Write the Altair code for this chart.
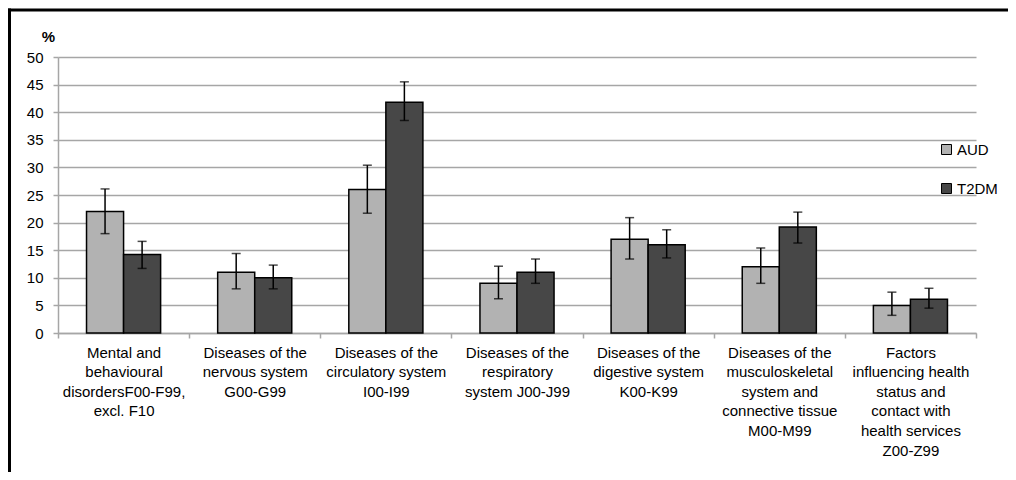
import altair as alt
import pandas as pd

categories = [
    "Mental and|behavioural|disordersF00-F99,|excl. F10",
    "Diseases of the|nervous system|G00-G99",
    "Diseases of the|circulatory system|I00-I99",
    "Diseases of the|respiratory|system J00-J99",
    "Diseases of the|digestive system|K00-K99",
    "Diseases of the|musculoskeletal|system and|connective tissue|M00-M99",
    "Factors|influencing health|status and|contact with|health services|Z00-Z99",
]
groups = ["AUD", "T2DM"]
aud = [22, 11, 26, 9, 17, 12, 5]
aud_lo = [18, 8, 21.7, 6.2, 13.4, 9, 3.2]
aud_hi = [26.1, 14.4, 30.4, 12.1, 20.9, 15.4, 7.4]
t2dm = [14.2, 10, 41.8, 11, 16, 19.2, 6.1]
t2dm_lo = [11.7, 8, 38.5, 9, 13.6, 16.3, 4.5]
t2dm_hi = [16.6, 12.3, 45.5, 13.4, 18.7, 21.9, 8.1]
y_ticks = [0, 5, 10, 15, 20, 25, 30, 35, 40, 45, 50]

rows = []
for i, c in enumerate(categories):
    rows.append({"cat": c, "group": "AUD", "value": aud[i], "lo": aud_lo[i], "hi": aud_hi[i]})
    rows.append({"cat": c, "group": "T2DM", "value": t2dm[i], "lo": t2dm_lo[i], "hi": t2dm_hi[i]})
df = pd.DataFrame(rows)

GRID = "#a6a6a6"
FONT = "Liberation Sans"

x_axis = alt.Axis(
    title=None, labelAngle=0, labelExpr="split(datum.label, '|')",
    tickBand="extent", grid=False, domainColor=GRID, domainWidth=1.5, tickColor=GRID,
    tickWidth=1.5, tickSize=5, labelFontSize=15, labelLineHeight=19.6,
    labelBaseline="top", labelPadding=7, labelColor="black", labelFont=FONT,
    labelLimit=200, labelOverlap=False,
)
x_scale = alt.Scale(paddingInner=0, paddingOuter=0)
y_axis = alt.Axis(
    values=y_ticks, title="%", titleAngle=0, titleX=-10, titleY=-21,
    titleAlign="center", titleBaseline="middle", titleFontWeight="bold",
    titleFontSize=15, titleFont=FONT, titleColor="black",
    grid=True, gridColor=GRID, gridWidth=1.5, domainColor=GRID, domainWidth=1.5,
    tickColor=GRID, tickWidth=1.5, tickSize=5, labelPadding=10,
    labelFontSize=15, labelFont=FONT, labelColor="black", labelOverlap=False,
)
y_scale = alt.Scale(domain=[0, 50], nice=False)


def xe():
    return alt.X("cat:N", sort=categories, scale=x_scale, axis=x_axis)


def ye(field):
    return alt.Y(field, scale=y_scale, axis=y_axis)


xoff = alt.XOffset("group:N", sort=groups,
                   scale=alt.Scale(domain=groups, paddingOuter=0.77, paddingInner=0))

base = alt.Chart(df)

bars = base.mark_bar(stroke="black", strokeWidth=1.5).encode(
    x=xe(), xOffset=xoff, y=ye("value:Q"),
    color=alt.Color(
        "group:N", sort=groups,
        scale=alt.Scale(domain=groups, range=["#b2b2b2", "#474747"]),
        legend=alt.Legend(
            title=None, orient="none", legendX=881, legendY=85,
            symbolType="square", symbolSize=100, symbolStrokeColor="black",
            symbolStrokeWidth=1, labelFontSize=15, labelFont=FONT,
            labelColor="black", rowPadding=23, labelOffset=3, padding=0,
        ),
    ),
)

err = base.mark_rule(color="black", strokeWidth=1.5).encode(
    x=xe(), xOffset=xoff, y=ye("lo:Q"), y2="hi:Q",
)
cap_lo = base.mark_tick(color="black", thickness=1.5, size=9).encode(
    x=xe(), xOffset=xoff, y=ye("lo:Q"),
)
cap_hi = base.mark_tick(color="black", thickness=1.5, size=9).encode(
    x=xe(), xOffset=xoff, y=ye("hi:Q"),
)

frame_df = pd.DataFrame({"k": [0]})
top_border = alt.Chart(frame_df).mark_rule(color="black", strokeWidth=3, clip=False).encode(
    x=alt.value(-50), x2=alt.value(950), y=alt.value(-47)
)
left_border = alt.Chart(frame_df).mark_rule(color="black", strokeWidth=3, clip=False).encode(
    x=alt.value(-48.5), y=alt.value(-48.5), y2=alt.value(430)
)

chart = (
    alt.layer(bars, err, cap_lo, cap_hi, top_border, left_border)
    .properties(
        width=918, height=276,
        autosize=alt.AutoSizeParams(type="none"),
        padding={"left": 50, "top": 49, "right": 32, "bottom": 139},
        view=alt.ViewBackground(stroke="transparent", strokeWidth=0),
    )
    .configure(font=FONT, view=alt.ViewConfig(stroke="transparent", strokeWidth=0))
    .configure_axisX(grid=False, gridOpacity=0)
)

chart.save("out.html", embed_options={"renderer": "svg", "actions": False})
